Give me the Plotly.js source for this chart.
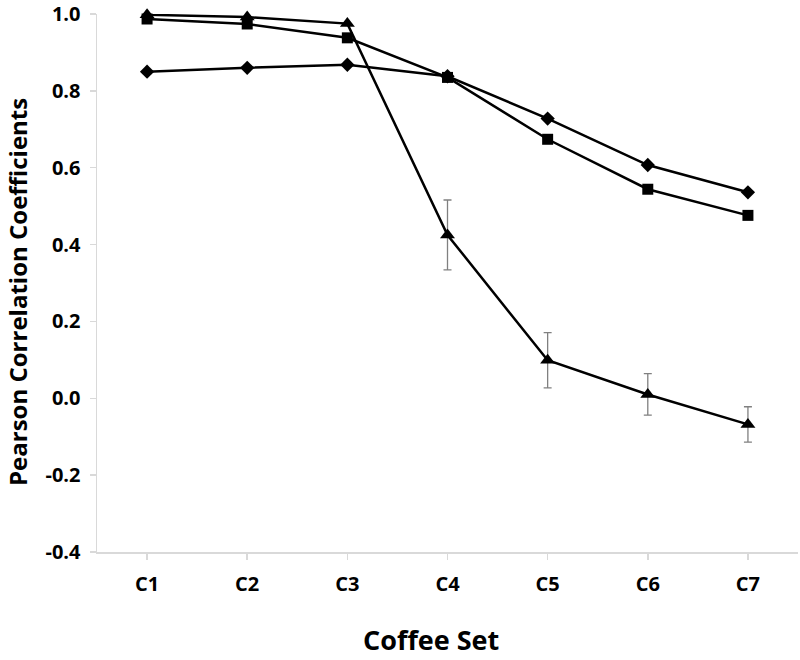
<!DOCTYPE html>
<html>
<head>
<meta charset="utf-8">
<script src="https://cdn.plot.ly/plotly-3.0.1.min.js"></script>
<style>html,body{margin:0;padding:0;background:#fff;}#chart{width:800px;height:660px;}</style>
</head>
<body>
<div id="chart"></div>
<script>
const categories = ["C1","C2","C3","C4","C5","C6","C7"];
const diamondValues = [0.850, 0.860, 0.868, 0.838, 0.728, 0.607, 0.536];
const squareValues = [0.987, 0.974, 0.938, 0.835, 0.674, 0.544, 0.476];
const triangleValues = [0.998, 0.992, 0.975, 0.425, 0.099, 0.010, -0.068];
const triangleErrors = [0, 0, 0, 0.091, 0.072, 0.054, 0.046];
const yTickValues = [-0.4, -0.2, 0.0, 0.2, 0.4, 0.6, 0.8, 1.0];
const yTickLabels = ["-0.4", "-0.2", "0.0", "0.2", "0.4", "0.6", "0.8", "1.0"];
const xTitle = "Coffee Set";
const yTitle = "Pearson Correlation Coefficients";

const W = 800, H = 660;
const M = {l: 97, r: 2, t: 14, b: 108};
const plotW = W - M.l - M.r, plotH = H - M.t - M.b;

const lineStyle = {color: "#000", width: 2.5};
const traces = [
  {x: categories, y: diamondValues, type: "scatter", mode: "lines+markers",
   line: lineStyle, marker: {symbol: "diamond", size: 11, color: "#000"}, cliponaxis: false},
  {x: categories, y: squareValues, type: "scatter", mode: "lines+markers",
   line: lineStyle, marker: {symbol: "square", size: 11, color: "#000"}, cliponaxis: false},
  {x: categories, y: triangleValues, type: "scatter", mode: "lines+markers",
   line: lineStyle, marker: {symbol: "triangle-up", size: 13, color: "#000"}, cliponaxis: false,
   error_y: {type: "data", array: triangleErrors, visible: true, color: "#808080", thickness: 1.3, width: 4}}
];

const fam = "Open Sans, Arial, sans-serif";
const tickFont = {family: fam, size: 20, color: "#000", weight: 700};
const layout = {
  width: W, height: H,
  margin: M,
  paper_bgcolor: "#fff", plot_bgcolor: "#fff",
  showlegend: false,
  xaxis: {
    type: "category", range: [-0.5, 6.5],
    showgrid: false, zeroline: false,
    showline: true, linecolor: "#d9d9d9", linewidth: 1.5,
    ticks: "outside", ticklen: 6, tickcolor: "#d9d9d9", tickwidth: 1.5,
    tickfont: tickFont, ticklabelstandoff: 7
  },
  yaxis: {
    range: [-0.4, 1.0],
    tickvals: yTickValues, ticktext: yTickLabels,
    showgrid: false, zeroline: false,
    showline: true, linecolor: "#d9d9d9", linewidth: 1.5,
    ticks: "outside", ticklen: 6, tickcolor: "#d9d9d9", tickwidth: 1.5,
    tickfont: tickFont, ticklabelstandoff: 5, ticklabeloverflow: "allow"
  },
  annotations: [
    {text: xTitle, xref: "paper", yref: "paper",
     x: (431 - M.l) / plotW, y: (H - M.b - 639) / plotH,
     xanchor: "center", yanchor: "middle", showarrow: false,
     font: {family: fam, size: 27, color: "#000", weight: 700}},
    {text: yTitle, xref: "paper", yref: "paper", textangle: -90,
     x: (17 - M.l) / plotW, y: (H - M.b - 292) / plotH,
     xanchor: "center", yanchor: "middle", showarrow: false,
     font: {family: fam, size: 24, color: "#000", weight: 700}}
  ]
};
Plotly.newPlot("chart", traces, layout, {displayModeBar: false, staticPlot: true});
</script>
</body>
</html>
